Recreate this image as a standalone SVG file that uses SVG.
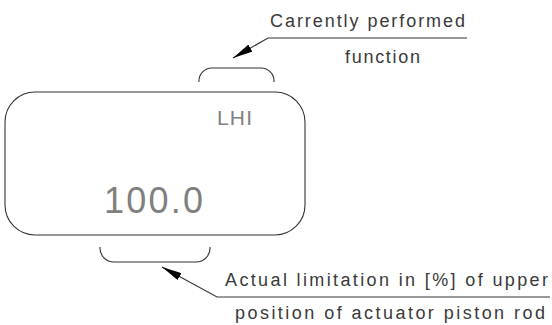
<svg xmlns="http://www.w3.org/2000/svg" width="552" height="325" viewBox="0 0 552 325">
<style>
.ln{fill:none;stroke:#333;stroke-width:1.1}
.lbl{font-family:"Liberation Sans",Arial,sans-serif;font-size:18px;fill:#3a3a3a}
.disp{font-family:"Liberation Sans",Arial,sans-serif;fill:#808080}
</style>
<defs>
<marker id="ah" viewBox="0 0 20 8" refX="20" refY="4" markerWidth="20" markerHeight="8" markerUnits="userSpaceOnUse" orient="auto">
<path d="M0,0 L20,4 L0,8 Z" fill="#000"/>
</marker>
</defs>
<rect width="552" height="325" fill="#fff"/>
<g id="display">
<rect class="ln" x="5" y="92" width="300" height="143" rx="30" ry="30"/>
<text class="disp" x="217" y="125" font-size="21" textLength="35" lengthAdjust="spacing">LHI</text>
<text class="disp" x="104" y="213" font-size="36" textLength="99" lengthAdjust="spacing" fill="#999">100.0</text>
</g>
<g id="top-bracket">
<path class="ln" d="M199,82 A13,13 0 0 1 212,68 L261,68 A13,13 0 0 1 274,82"/>
</g>
<g id="bottom-bracket">
<path class="ln" d="M100,247 A14,14 0 0 0 114,262 L196,262 A14,14 0 0 0 210,247"/>
</g>
<g id="connectors">
<path class="ln" d="M467,38 L268,38 L233,58" marker-end="url(#ah)"/>
<path class="ln" d="M550,297 L217,297 L162,267" marker-end="url(#ah)"/>
</g>
<g id="label-top">
<text class="lbl" x="270" y="27" textLength="195" lengthAdjust="spacing">Carrently performed</text>
<text class="lbl" x="345" y="63" textLength="75" lengthAdjust="spacing">function</text>
</g>
<g id="label-bottom">
<text class="lbl" x="225" y="286" textLength="323" lengthAdjust="spacing">Actual limitation in [%] of upper</text>
<text class="lbl" x="235" y="319" textLength="310" lengthAdjust="spacing">position of actuator piston rod</text>
</g>
</svg>
